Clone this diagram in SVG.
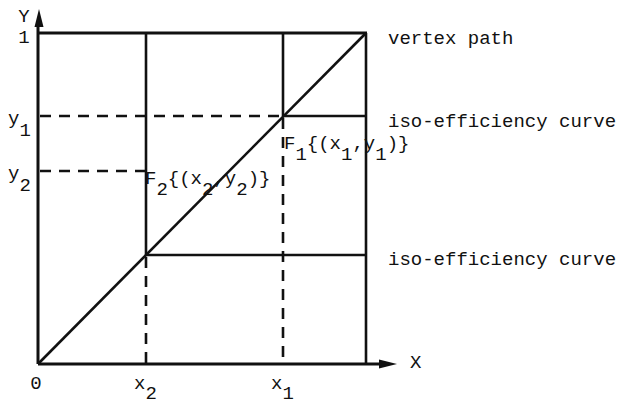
<svg xmlns="http://www.w3.org/2000/svg" width="621" height="404" viewBox="0 0 621 404">
  <style>
    .ax{stroke:#111;stroke-width:3;fill:none}
    .ln{stroke:#111;stroke-width:2.6;fill:none}
    .ds{stroke:#111;stroke-width:2.6;fill:none;stroke-dasharray:11 8}
    .t{font-family:"Liberation Mono","Courier New",monospace;font-size:19px;fill:#111}
    .head{fill:#111}
  </style>
  <rect width="621" height="404" fill="#fff"/>
  <g id="axes">
    <line class="ax" x1="38" y1="364" x2="38" y2="24"/>
    <polygon class="head" points="39,9 34.5,27 43.5,27"/>
    <line class="ax" x1="38" y1="364" x2="382" y2="364"/>
    <polygon class="head" points="397,364 379,359.5 379,368.5"/>
  </g>
  <g id="connectors">
    <line class="ax" x1="38" y1="33" x2="367" y2="33"/>
    <line class="ln" x1="366" y1="33" x2="366" y2="364"/>
    <line class="ln" x1="146" y1="33" x2="146" y2="255"/>
    <line class="ln" x1="283" y1="33" x2="283" y2="116"/>
    <line class="ln" x1="283" y1="116" x2="366" y2="116"/>
    <line class="ln" x1="146" y1="255" x2="366" y2="255"/>
    <line class="ln" x1="38" y1="364" x2="366" y2="33"/>
    <line class="ds" x1="40" y1="116" x2="283" y2="116"/>
    <line class="ds" x1="40" y1="171" x2="146" y2="171"/>
    <line class="ds" x1="146" y1="257" x2="146" y2="364"/>
    <line class="ds" x1="283" y1="118" x2="283" y2="364"/>
  </g>
  <g id="axis-labels">
    <text class="t" x="24" y="22" text-anchor="middle">Y</text>
    <text class="t" x="24" y="43" text-anchor="middle">1</text>
    <text class="t" x="8" y="124">y<tspan dy="12">1</tspan></text>
    <text class="t" x="8" y="179">y<tspan dy="12">2</tspan></text>
    <text class="t" x="36" y="389" text-anchor="middle">0</text>
    <text class="t" x="134" y="389">x<tspan dy="10">2</tspan></text>
    <text class="t" x="271" y="389">x<tspan dy="10">1</tspan></text>
    <text class="t" x="410" y="368">X</text>
  </g>
  <g id="vertex-path"><text class="t" x="388" y="44">vertex path</text></g>
  <g id="iso-upper"><text class="t" x="388" y="127">iso-efficiency curve</text></g>
  <g id="iso-lower"><text class="t" x="388" y="265">iso-efficiency curve</text></g>
  <g id="F1"><text class="t" x="284" y="149">F<tspan dy="11">1</tspan><tspan dy="-11">{(x</tspan><tspan dy="11">1</tspan><tspan dy="-11">,y</tspan><tspan dy="11">1</tspan><tspan dy="-11">)}</tspan></text></g>
  <g id="F2"><text class="t" x="145" y="184">F<tspan dy="11">2</tspan><tspan dy="-11">{(x</tspan><tspan dy="11">2</tspan><tspan dy="-11">,y</tspan><tspan dy="11">2</tspan><tspan dy="-11">)}</tspan></text></g>
</svg>
